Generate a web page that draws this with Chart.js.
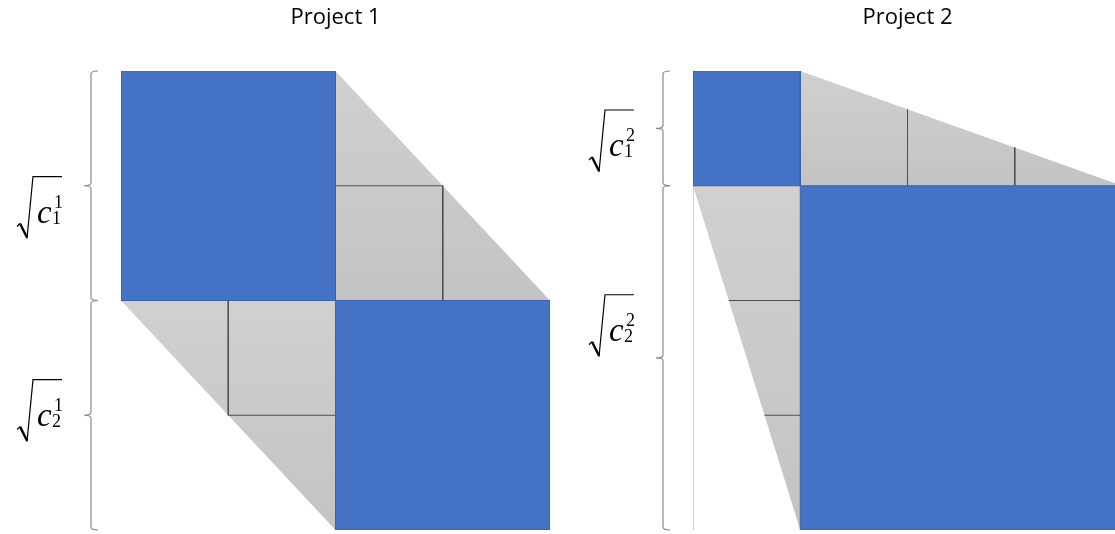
<!DOCTYPE html>
<html>
<head>
<meta charset="utf-8">
<script src="https://cdn.jsdelivr.net/npm/chart.js@4.4.1/dist/chart.umd.min.js"></script>
<style>
  html, body { margin: 0; padding: 0; background: #fff; overflow: hidden; }
  body { width: 1115px; height: 534px; position: relative; }
  canvas { position: absolute; top: 0; }
  #project1 { left: 0; }
  #project2 { left: 572px; }
</style>
</head>
<body>
<canvas id="project1" width="557" height="534"></canvas>
<canvas id="project2" width="557" height="534"></canvas>
<script>
// one entry per project
const projectTitles = ["Project 1", "Project 2"];
const rootC1 = [2, 1]; // side of first square (grid cells)
const rootC2 = [2, 3]; // side of second square (grid cells)
const projectIndex = ["1", "2"]; // superscript in labels
const termIndex = ["1", "2"];    // subscript in labels

// where the sqrt labels sit (y in axis units), and which panel gets the left edge line
const labelCentre = [[1.19, 2.96], [0.61, 2.22]];
const edgeLine = [false, true];

const BLUE = "#4472c4";
const BLUE_EDGE = "#3a62ab";
const GRID = "#4d4d4d";

function grayFill(y0, y1) {
  return (ctx) => {
    const chart = ctx.chart;
    if (!chart.chartArea) return "#cccccc";
    const ys = chart.scales.y;
    const g = chart.ctx.createLinearGradient(0, ys.getPixelForValue(y0), 0, ys.getPixelForValue(y1));
    g.addColorStop(0, "#d0d0d0");
    g.addColorStop(1, "#c3c3c3");
    return g;
  };
}

function poly(pts) {
  return pts.map(([x, y]) => ({ x, y }));
}

function buildDatasets(a, b) {
  const sets = [];
  // blue squares on top
  sets.push({ data: poly([[0, 0], [a, 0], [a, a], [0, a], [0, 0]]), backgroundColor: BLUE, borderColor: BLUE_EDGE, borderWidth: 1, fill: "shape" });
  sets.push({ data: poly([[a, a], [a + b, a], [a + b, a + b], [a, a + b], [a, a]]), backgroundColor: BLUE, borderColor: BLUE_EDGE, borderWidth: 1, fill: "shape" });

  // grid lines inside the gray wedges
  const segs = [];
  for (let k = 1; k < b; k++) segs.push([[a + k, k * a / b], [a + k, a]]);
  for (let k = 1; k < a; k++) segs.push([[a, k], [a + k * b / a, k]]);
  for (let k = 1; k < b; k++) segs.push([[k * a / b, a + k], [a, a + k]]);
  for (let k = 1; k < a; k++) segs.push([[k, a], [k, a + k * b / a]]);
  segs.forEach((s) => sets.push({ data: poly(s), borderColor: GRID, borderWidth: 1, fill: false }));

  // gray wedges
  sets.push({ data: poly([[a, 0], [a + b, a], [a, a], [a, 0]]), backgroundColor: grayFill(0, a), borderWidth: 0, borderColor: "rgba(0,0,0,0)", fill: "shape" });
  sets.push({ data: poly([[0, a], [a, a + b], [a, a], [0, a]]), backgroundColor: grayFill(a, a + b), borderWidth: 0, borderColor: "rgba(0,0,0,0)", fill: "shape" });

  return sets.map((d) => Object.assign({ showLine: true, pointRadius: 0, tension: 0 }, d));
}

function drawBrace(ctx, bx, y0, y1) {
  const m = (y0 + y1) / 2;
  ctx.beginPath();
  ctx.moveTo(bx + 7, y0);
  ctx.quadraticCurveTo(bx, y0, bx, y0 + 3);
  ctx.lineTo(bx, m - 3);
  ctx.quadraticCurveTo(bx, m, bx - 7, m);
  ctx.quadraticCurveTo(bx, m, bx, m + 3);
  ctx.lineTo(bx, y1 - 3);
  ctx.quadraticCurveTo(bx, y1, bx + 7, y1);
  ctx.stroke();
}

function drawRootLabel(ctx, x0, yc, sup, sub) {
  const y0 = yc - 31;
  ctx.save();
  ctx.strokeStyle = "#000";
  ctx.lineJoin = "miter";
  ctx.beginPath();
  ctx.lineWidth = 1.3;
  ctx.moveTo(x0, y0 + 50);
  ctx.lineTo(x0 + 3, y0 + 47);
  ctx.stroke();
  ctx.beginPath();
  ctx.lineWidth = 2.4;
  ctx.moveTo(x0 + 3, y0 + 47);
  ctx.lineTo(x0 + 10, y0 + 61);
  ctx.stroke();
  ctx.beginPath();
  ctx.lineWidth = 1.2;
  ctx.moveTo(x0 + 10, y0 + 62);
  ctx.lineTo(x0 + 16, y0);
  ctx.lineTo(x0 + 45, y0);
  ctx.stroke();

  ctx.fillStyle = "#000";
  ctx.textBaseline = "alphabetic";
  ctx.textAlign = "left";
  ctx.font = "italic 33px 'Liberation Serif'";
  ctx.fillText("c", x0 + 20, y0 + 46);
  ctx.font = "18px 'Liberation Serif'";
  ctx.fillText(sup, x0 + 37, y0 + 31);
  ctx.fillText(sub, x0 + 35, y0 + 47);
  ctx.restore();
}

const decorations = {
  id: "decorations",
  beforeDatasetsDraw(chart, args, opts) {
    if (!opts.edge) return;
    const { ctx, scales: { x, y } } = chart;
    ctx.save();
    ctx.strokeStyle = "#d0d0d0";
    ctx.lineWidth = 1;
    ctx.beginPath();
    ctx.moveTo(x.getPixelForValue(0) + 0.5, y.getPixelForValue(opts.a));
    ctx.lineTo(x.getPixelForValue(0) + 0.5, y.getPixelForValue(opts.a + opts.b));
    ctx.stroke();
    ctx.restore();
  },
  afterDraw(chart, args, opts) {
    const { ctx, chartArea, scales: { y } } = chart;
    const bx = chartArea.left - 30;
    ctx.save();
    ctx.strokeStyle = "#8a8a8a";
    ctx.lineWidth = 1.2;
    drawBrace(ctx, bx, y.getPixelForValue(0), y.getPixelForValue(opts.a));
    drawBrace(ctx, bx, y.getPixelForValue(opts.a), y.getPixelForValue(opts.a + opts.b));
    ctx.restore();
    opts.labels.forEach((v, i) => {
      drawRootLabel(ctx, chartArea.left - 104, y.getPixelForValue(v), opts.sup, termIndex[i]);
    });
  }
};

function makeProject(p) {
  const a = rootC1[p], b = rootC2[p];
  const canvas = document.getElementById("project" + (p + 1));
  return new Chart(canvas.getContext("2d"), {
    type: "scatter",
    data: { datasets: buildDatasets(a, b) },
    options: {
      responsive: false,
      animation: false,
      events: [],
      layout: { padding: { left: 121, right: 7, top: 0, bottom: 4 } },
      scales: {
        x: { type: "linear", min: 0, max: a + b, display: false },
        y: { type: "linear", min: 0, max: a + b, reverse: true, display: false }
      },
      plugins: {
        legend: { display: false },
        tooltip: { enabled: false },
        title: {
          display: true,
          text: projectTitles[p],
          color: "#000",
          font: { family: "'Open Sans'", size: 22, weight: "normal" },
          padding: { top: 5, bottom: 39.6 }
        },
        decorations: { a, b, edge: edgeLine[p], labels: labelCentre[p], sup: projectIndex[p] }
      }
    },
    plugins: [decorations]
  });
}

projectTitles.forEach((t, p) => makeProject(p));
</script>
</body>
</html>
